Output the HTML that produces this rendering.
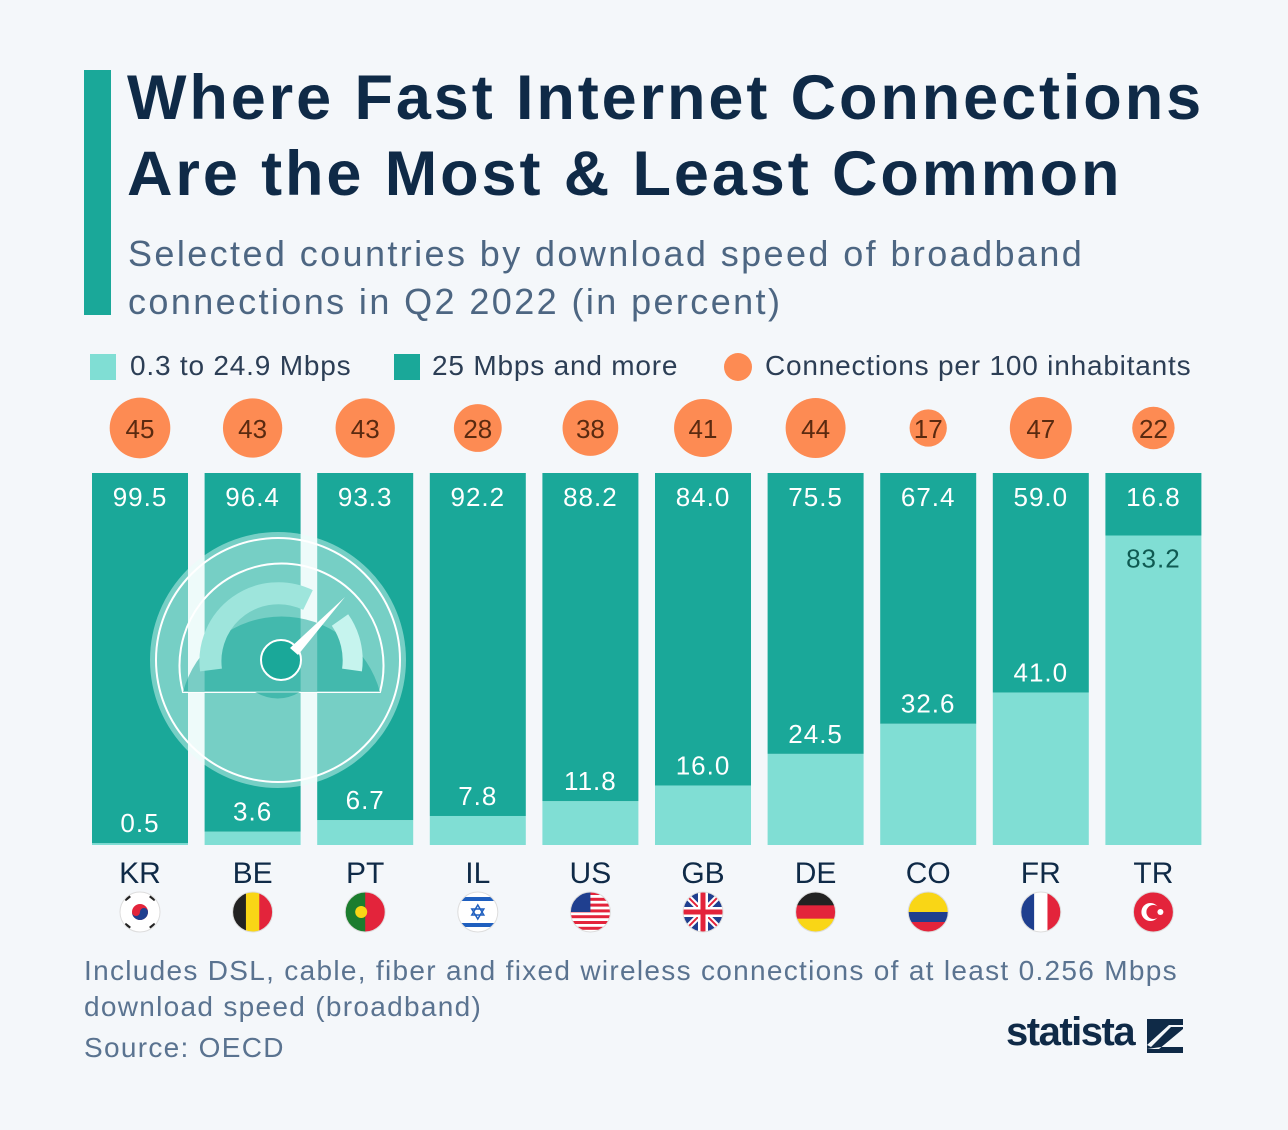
<!DOCTYPE html>
<html><head><meta charset="utf-8"><style>
html,body{margin:0;padding:0}
body{width:1288px;height:1130px;background:#f4f7fa;position:relative;overflow:hidden;font-family:"Liberation Sans",sans-serif}
.t{position:absolute;white-space:nowrap}
</style></head><body>
<div style="position:absolute;left:84px;top:70px;width:27px;height:245px;background:#1aa899"></div>
<div class="t" style="left:127px;top:60px;font-size:63px;font-weight:bold;color:#0f2a47;line-height:76px;letter-spacing:2.9px">Where Fast Internet Connections<br>Are the Most &amp; Least Common</div>
<div class="t" style="left:128px;top:230px;font-size:36px;color:#4d6682;line-height:48px;letter-spacing:2.4px">Selected countries by download speed of broadband<br>connections in Q2 2022 (in percent)</div>
<div style="position:absolute;left:90px;top:350px;font-size:28px;color:#2c3e55;letter-spacing:0.8px">
<span style="position:absolute;left:0;top:4px;width:26px;height:26px;background:#80ded4"></span><span class="t" style="left:40px;top:0">0.3 to 24.9 Mbps</span>
<span style="position:absolute;left:304px;top:4px;width:26px;height:26px;background:#1aa899"></span><span class="t" style="left:342px;top:0">25 Mbps and more</span>
<span style="position:absolute;left:634px;top:3px;width:28px;height:28px;border-radius:50%;background:#fd8b53"></span><span class="t" style="left:675px;top:0">Connections per 100 inhabitants</span>
</div>
<svg id="chart" width="1288" height="1130" style="position:absolute;left:0;top:0"></svg>
<div class="t" style="left:84px;top:953px;font-size:28px;color:#5a7390;line-height:36px;letter-spacing:1.3px">Includes DSL, cable, fiber and fixed wireless connections of at least 0.256 Mbps<br>download speed (broadband)</div>
<div class="t" style="left:84px;top:1032px;font-size:28px;color:#5a7390;letter-spacing:1.3px">Source: OECD</div>
<div class="t" style="left:1006px;top:1010px;font-size:40px;font-weight:bold;color:#0f2a47;letter-spacing:-1.5px">statista</div>
<svg width="36" height="34" style="position:absolute;left:1147px;top:1019px"><rect width="36" height="34" fill="#0f2a47"/><path d="M0 26 L22 6 L36 6 L36 8 L24 8 L4 28 Z M0 30 L12 30 L36 10 L36 28 L14 28 Z" fill="#f4f7fa"/></svg>
<script>
const countries=["KR","BE","PT","IL","US","GB","DE","CO","FR","TR"];
const fastShare=[99.5,96.4,93.3,92.2,88.2,84.0,75.5,67.4,59.0,16.8];
const slowShare=[0.5,3.6,6.7,7.8,11.8,16.0,24.5,32.6,41.0,83.2];
const connections=[45,43,43,28,38,41,44,17,47,22];
(function(){
const NS="http://www.w3.org/2000/svg";
const svg=document.getElementById('chart');
const x0=92,step=112.6,bw=96,yTop=473,yBot=845;
const y=v=>yBot-(v/100)*(yBot-yTop);
const xc=i=>x0+i*step;
const rr=v=>4.52*Math.sqrt(v);
function mk(tag,a){const e=document.createElementNS(NS,tag);for(const k in a)e.setAttribute(k,a[k]);svg.appendChild(e);return e;}
function txt(s,a){const e=mk('text',a);e.textContent=s;return e;}
const flags={KR:['#fff'],BE:['#222','#f9d616','#e3243b'],PT:['#1b7d2e','#e3243b'],IL:['#fff'],US:['#fff'],GB:['#1f3f8f'],DE:['#222','#e3243b','#f9d616'],CO:['#f9d616','#f9d616','#1f3f8f','#e3243b'],FR:['#1f3f8f','#fff','#e3243b'],TR:['#e3243b']};
countries.forEach((c,i)=>{
  const x=xc(i),cx=x+bw/2;
  let e=mk('rect',{x:x,y:y(slowShare[i]),width:bw,height:yBot-y(slowShare[i]),fill:'#80ded4'});
  
  
  e=mk('rect',{x:x,y:yTop,width:bw,height:y(slowShare[i])-yTop,fill:'#1aa899'});
  
  
  e=txt(fastShare[i].toFixed(1),{x:cx,y:yTop+33,'text-anchor':'middle','font-size':26,fill:'#fff','letter-spacing':1});
  
  
  const ys=y(slowShare[i]);
  const inside=slowShare[i]>60;
  e=txt(slowShare[i].toFixed(1),{x:cx,y:inside?ys+32:ys-11,'text-anchor':'middle','font-size':26,fill:inside?'#0f5a52':'#fff','letter-spacing':1});
  
  
  e=mk('circle',{cx:cx,cy:428,r:rr(connections[i]),fill:'#fd8b53'});
  
  
  e=txt(connections[i],{x:cx,y:438,'text-anchor':'middle','font-size':26,fill:'#5a2a10'});
  
  
  e=txt(c,{x:cx,y:883,'text-anchor':'middle','font-size':30,fill:'#0f2a47'});
  
  
  const g=document.createElementNS(NS,'g');svg.appendChild(g);
  
  
  const cid='cl'+i;
  let h=`<clipPath id="${cid}"><circle cx="${cx}" cy="912" r="20"/></clipPath><g clip-path="url(#${cid})">`;
  const cols=flags[c];
  if(c==='DE'||c==='CO'){cols.forEach((col,k)=>{h+=`<rect x="${cx-20}" y="${892+k*40/cols.length}" width="40" height="${40/cols.length+1}" fill="${col}"/>`;});}
  else if(c==='BE'||c==='FR'||c==='PT'){cols.forEach((col,k)=>{h+=`<rect x="${cx-20+k*40/cols.length}" y="892" width="${40/cols.length+1}" height="40" fill="${col}"/>`;});}
  else{h+=`<rect x="${cx-20}" y="892" width="40" height="40" fill="${cols[0]}"/>`;
    if(c==='KR')h+=`<circle cx="${cx}" cy="912" r="8" fill="#e3243b"/><path d="M${cx-8} 912 a8 8 0 0 0 16 0 a4 4 0 0 0 -8 0 a4 4 0 0 1 -8 0" fill="#1f3f8f"/><path d="M${cx-15} 900 l5 -4 M${cx+10} 896 l5 4 M${cx-15} 924 l5 4 M${cx+10} 928 l5 -4" stroke="#222" stroke-width="3"/>`;
    if(c==='IL')h+=`<rect x="${cx-20}" y="897" width="40" height="4" fill="#1f5fbf"/><rect x="${cx-20}" y="923" width="40" height="4" fill="#1f5fbf"/><path d="M${cx} 905 l6 10 h-12z M${cx} 919 l6 -10 h-12z" fill="none" stroke="#1f5fbf" stroke-width="1.5"/>`;
    if(c==='US'){for(let k=0;k<7;k++)h+=`<rect x="${cx-20}" y="${892+k*5.8}" width="40" height="3" fill="#e3243b"/>`;h+=`<rect x="${cx-20}" y="892" width="20" height="20" fill="#1f3f8f"/>`;}
    if(c==='GB')h+=`<path d="M${cx-20} 892 L${cx+20} 932 M${cx+20} 892 L${cx-20} 932" stroke="#fff" stroke-width="6"/><path d="M${cx-20} 892 L${cx+20} 932 M${cx+20} 892 L${cx-20} 932" stroke="#e3243b" stroke-width="2"/><path d="M${cx} 892 V932 M${cx-20} 912 H${cx+20}" stroke="#fff" stroke-width="10"/><path d="M${cx} 892 V932 M${cx-20} 912 H${cx+20}" stroke="#e3243b" stroke-width="5"/>`;
    if(c==='TR')h+=`<circle cx="${cx-3}" cy="912" r="9" fill="#fff"/><circle cx="${cx}" cy="912" r="7" fill="#e3243b"/><circle cx="${cx+7}" cy="912" r="3" fill="#fff"/>`;
  }
  if(c==='PT')h+=`<circle cx="${cx-4}" cy="912" r="6" fill="#f9d616"/>`;
  h+=`</g><circle cx="${cx}" cy="912" r="20" fill="none" stroke="#ddd"/>`;
  g.innerHTML=h;
});
const gauge=document.createElementNS(NS,'g');svg.appendChild(gauge);


gauge.innerHTML=`<circle cx="278" cy="660" r="128" fill="#e6fffb" opacity="0.45"/>
<circle cx="278" cy="660" r="122" fill="none" stroke="#fff" stroke-width="2"/>
<path d="M183 692 A102 102 0 1 1 380 692 Z" fill="none" stroke="#fff" stroke-width="2"/>
<path d="M183 692 H255 Q278 705 300 692 H380 A102 102 0 0 0 183 692Z" fill="#1aa899" opacity="0.55"/>
<path d="M211 670 A68 68 0 0 1 308 600" fill="none" stroke="#9ee5dc" stroke-width="22"/>
<path d="M340 620 A70 70 0 0 1 352 670" fill="none" stroke="#c6f4ee" stroke-width="20"/>
<circle cx="281" cy="660" r="20" fill="#1aa899" stroke="#fff" stroke-width="2"/>
<path d="M290 648 L345 597 L298 655Z" fill="#fff"/>`;
})();
</script>
</body></html>
